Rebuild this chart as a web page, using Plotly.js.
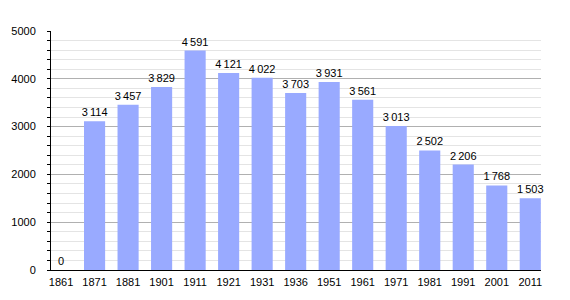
<!DOCTYPE html>
<html>
<head>
<meta charset="utf-8">
<script src="https://cdn.plot.ly/plotly-3.0.1.min.js"></script>
<style>html,body{margin:0;padding:0;background:#fff;}#chart{width:570px;height:300px;}</style>
</head>
<body>
<div id="chart"></div>
<script>
const years = ['1861','1871','1881','1901','1911','1921','1931','1936','1951','1961','1971','1981','1991','2001','2011'];
const population = [0,3114,3457,3829,4591,4121,4022,3703,3931,3561,3013,2502,2206,1768,1503];

function fmt(v){
  const s = String(v);
  if (s.length <= 3) return s;
  return s.slice(0, s.length-3) + '\u2009' + s.slice(s.length-3);
}
const labels = population.map(fmt);

const trace = {
  type: 'bar',
  x: years,
  y: population,
  text: labels,
  textposition: 'outside',
  constraintext: 'none',
  textfont: {family: 'Liberation Sans, Arial, sans-serif', size: 11, color: '#000'},
  marker: {color: '#99aaff', line: {width: 0}},
  width: 0.63,
  cliponaxis: false,
  hoverinfo: 'none'
};

const layout = {
  width: 570, height: 300,
  margin: {l: 51, r: 29, t: 31, b: 30, pad: 0},
  paper_bgcolor: '#fff', plot_bgcolor: '#fff',
  showlegend: false,
  font: {family: 'Liberation Sans, Arial, sans-serif', size: 11, color: '#000'},
  xaxis: {
    type: 'category',
    range: [-0.3, 14.32],
    showline: true, linecolor: '#000', linewidth: 1,
    showgrid: false, ticks: '', zeroline: false,
    tickfont: {size: 11, color: '#000'},
    ticklabelstandoff: 2
  },
  yaxis: {
    range: [0, 5000],
    dtick: 1000,
    showline: true, linecolor: '#000', linewidth: 1,
    showgrid: true, gridcolor: '#b0b0b0', gridwidth: 1,
    ticks: 'outside', ticklen: 3, tickcolor: '#000',
    zeroline: false,
    tickformat: 'd',
    tickfont: {size: 11, color: '#000'},
    ticklabelstandoff: 9,
    minor: {dtick: 200, showgrid: true, gridcolor: '#e4e4e4', gridwidth: 1, ticks: 'outside', ticklen: 3, tickcolor: '#000'}
  }
};

Plotly.newPlot('chart', [trace], layout, {staticPlot: true, displayModeBar: false});
</script>
</body>
</html>
